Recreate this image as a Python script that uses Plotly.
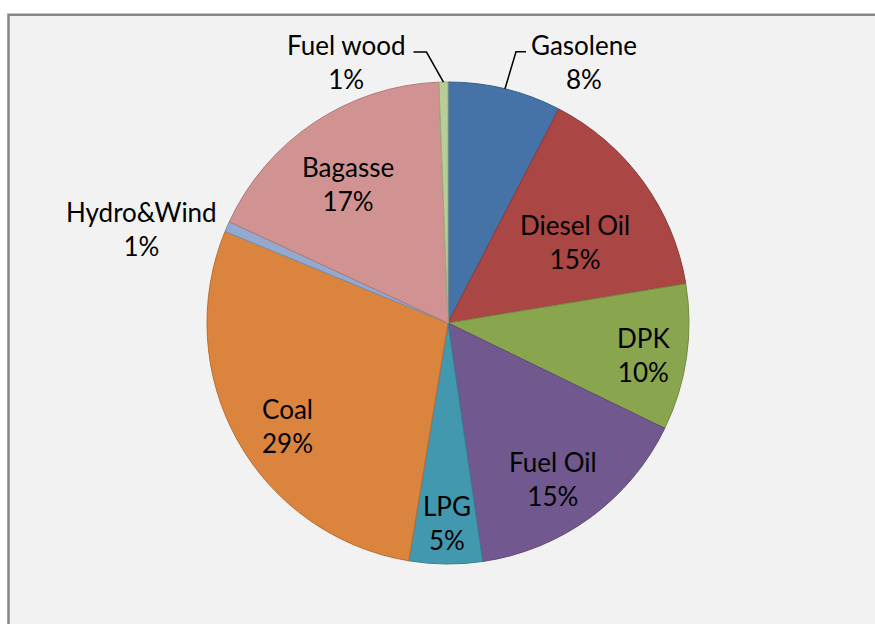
import math
import plotly.graph_objects as go

# ---- data ----
fuels = ["Gasolene", "Diesel Oil", "DPK", "Fuel Oil", "LPG", "Coal",
         "Hydro&Wind", "Bagasse", "Fuel wood"]
shares = [7.6, 14.8, 9.8, 15.5, 4.9, 28.6, 0.7, 17.5, 0.6]
pct_labels = ["8%", "15%", "10%", "15%", "5%", "29%", "1%", "17%", "1%"]

# ---- style ----
W, H = 875, 624
colors = ["#4572A7", "#AA4643", "#89A54E", "#71588F", "#4198AF",
          "#DB843D", "#93A9CF", "#D19392", "#B9CD96"]
edge_colors = ["#3A5F8C", "#8E3A37", "#728A41", "#5E4977", "#367F92",
               "#B76E33", "#7A8DAD", "#AE7A79", "#9AAB7D"]
# pie geometry in pixels
CX, CY, R = 448, 323, 241
# label placement: (angle clockwise from top in degrees, radius fraction)
label_pos = {
    "Gasolene": (27.5, 1.22),
    "Diesel Oil": (57.5, 0.625),
    "DPK": (99.3, 0.82),
    "Fuel Oil": (146.2, 0.78),
    "LPG": (180.3, 0.83),
    "Coal": (237.2, 0.79),
    "Hydro&Wind": (287.1, 1.33),
    "Bagasse": (324.3, 0.71),
    "Fuel wood": (338.8, 1.16),
}
# leader lines: (elbow dx, dy from edge point, horizontal run)
leaders = {
    "Gasolene": (11, -37, 10),
    "Fuel wood": (-17, -30, -13),
}
FONT = "Lato, 'Open Sans', sans-serif"
FSIZE = 26


def px(x):
    return x / W


def py(y):
    return 1 - y / H


fig = go.Figure()

fig.add_trace(go.Pie(
    labels=fuels,
    values=shares,
    sort=False,
    direction="clockwise",
    rotation=0,
    textinfo="none",
    hoverinfo="label+percent",
    marker=dict(colors=colors, line=dict(color=edge_colors, width=1)),
    domain=dict(x=[px(CX - R), px(CX + R)], y=[py(CY + R), py(CY - R)]),
    showlegend=False,
))

annotations = []
shapes = [dict(
    type="rect", xref="paper", yref="paper", layer="below",
    x0=px(8.5), x1=1.05, y0=-0.05, y1=py(14.8),
    fillcolor="#F2F2F2", line=dict(color="#878787", width=2.5),
)]

total = sum(shares)
cum = 0.0
for name, v, pct in zip(fuels, shares, pct_labels):
    mid = (cum + v / 2) / total * 360
    cum += v
    ang, frac = label_pos[name]
    a = math.radians(ang)
    lx = CX + frac * R * math.sin(a)
    ly = CY - frac * R * math.cos(a)
    annotations.append(dict(
        x=px(lx), y=py(ly), xref="paper", yref="paper",
        text=f"{name}<br>{pct}", showarrow=False,
        xanchor="center", yanchor="middle", align="center",
        font=dict(family=FONT, size=FSIZE, color="#000000"),
    ))
    if name in leaders:
        ex_dx, ex_dy, run = leaders[name]
        m = math.radians(mid)
        ex = CX + R * math.sin(m)
        ey = CY - R * math.cos(m)
        bx, by = ex + ex_dx, ey + ex_dy
        hx = bx + run
        path = f"M {px(ex)},{py(ey)} L {px(bx)},{py(by)} L {px(hx)},{py(by)}"
        shapes.append(dict(type="path", xref="paper", yref="paper",
                           path=path, line=dict(color="#000000", width=1.5)))

fig.update_layout(
    width=W, height=H,
    margin=dict(l=0, r=0, t=0, b=0),
    paper_bgcolor="#FFFFFF",
    annotations=annotations,
    shapes=shapes,
)

fig.write_html(
    "out.html",
    config={"displayModeBar": False},
    post_script="document.body.style.margin='0';document.body.style.overflow='hidden';",
)
